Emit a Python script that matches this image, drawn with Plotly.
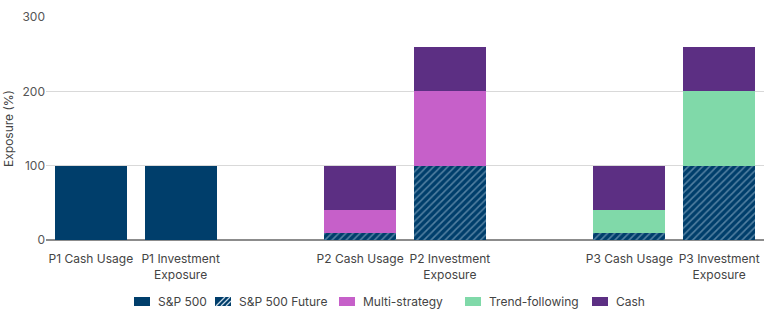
import plotly.graph_objects as go

# Bar slots; empty slots separate the three portfolios
categories = ["P1 Cash Usage", "P1 Investment<br>Exposure", "",
              "P2 Cash Usage", "P2 Investment<br>Exposure", "",
              "P3 Cash Usage", "P3 Investment<br>Exposure"]

sp500 = [100, 100, None, None, None, None, None, None]
sp500_future = [None, None, None, 10, 100, None, 10, 100]
multi_strategy = [None, None, None, 30, 100, None, None, None]
trend_following = [None, None, None, None, None, None, 30, 100]
cash = [None, None, None, 60, 60, None, 60, 60]

y_ticks = [0, 100, 200, 300]

NAVY = "#003e6b"
HATCH = "#a6c2d8"
MULTI = "#c660c9"
TREND = "#80d9a9"
CASH = "#5c2f83"

x = list(range(len(categories)))
tick_pos = [i for i, c in enumerate(categories) if c]
tick_txt = [c for c in categories if c]

fig = go.Figure()
fig.add_bar(name="S&P 500", x=x, y=sp500, marker=dict(color=NAVY, line=dict(width=0)))
fig.add_bar(name="S&P 500 Future", x=x, y=sp500_future,
            marker=dict(color=NAVY, line=dict(width=0),
                        pattern=dict(shape="/", bgcolor=NAVY, fgcolor=HATCH,
                                     size=5, solidity=0.32)))
fig.add_bar(name="Multi-strategy", x=x, y=multi_strategy,
            marker=dict(color=MULTI, line=dict(width=0)))
fig.add_bar(name="Trend-following", x=x, y=trend_following,
            marker=dict(color=TREND, line=dict(width=0)))
fig.add_bar(name="Cash", x=x, y=cash, marker=dict(color=CASH, line=dict(width=0)))

# Legend drawn below the plot: wide swatches followed by labels
L, R, T, B = 46, 6, 17, 82
W, H = 770, 322
pw, ph = W - L - R, H - T - B


def px_x(p):
    return (p - L) / pw


def px_y(p):
    return (H - B - p) / ph


legend_items = [
    ("S&P 500", NAVY, False, 134),
    ("S&P 500 Future", NAVY, True, 215),
    ("Multi-strategy", MULTI, False, 339),
    ("Trend-following", TREND, False, 465),
    ("Cash", CASH, False, 592),
]
sw_w, sw_h, cy = 16, 9, 301.5
for label, color, hatched, sx in legend_items:
    fig.add_shape(type="rect", xref="paper", yref="paper",
                  x0=px_x(sx), x1=px_x(sx + sw_w),
                  y0=px_y(cy + sw_h / 2), y1=px_y(cy - sw_h / 2),
                  fillcolor=color, line=dict(width=0))
    if hatched:
        for k in range(4):
            a = sx + 1 + k * 5
            fig.add_shape(type="line", xref="paper", yref="paper",
                          x0=px_x(a), x1=px_x(min(a + sw_h, sx + sw_w)),
                          y0=px_y(cy + sw_h / 2),
                          y1=px_y(cy + sw_h / 2 - (min(a + sw_h, sx + sw_w) - a)),
                          line=dict(color="#c9d9e6", width=1.2))
    fig.add_annotation(text=label, xref="paper", yref="paper",
                       x=px_x(sx + sw_w + 6), y=px_y(cy), xanchor="left",
                       yanchor="middle", showarrow=False,
                       font=dict(size=12, color="#444"))

fig.update_layout(
    barmode="stack",
    bargap=0.2,
    width=W, height=H,
    margin=dict(l=L, r=R, t=T, b=B),
    paper_bgcolor="white", plot_bgcolor="white",
    font=dict(family="Inter, Open Sans, sans-serif", size=12, color="#444"),
    showlegend=False,
    xaxis=dict(range=[-0.5, len(categories) - 0.5], tickmode="array",
               tickvals=tick_pos, ticktext=tick_txt, showgrid=False,
               showline=False, ticks="", ticklabelstandoff=10,
               tickfont=dict(size=12, color="#444")),
    yaxis=dict(range=[0, 300], tickvals=y_ticks, showgrid=True, gridcolor="#d9d9d9",
               gridwidth=1, zeroline=True, zerolinecolor="#8c8c8c", zerolinewidth=2,
               title=dict(text="Exposure (%)", font=dict(size=12, color="#444"), standoff=6),
               tickfont=dict(size=12, color="#555"), ticks=""),
)

fig.write_html("out.html")
